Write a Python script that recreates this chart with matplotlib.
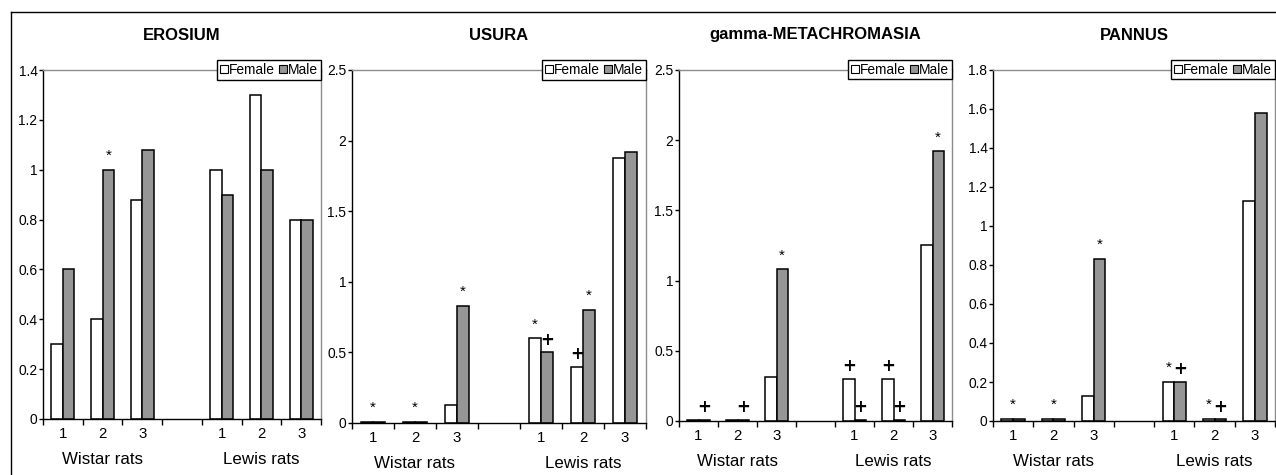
import numpy as np
import matplotlib.pyplot as plt
from matplotlib.patches import Patch
from matplotlib.lines import Line2D

plt.rcParams['font.family'] = ['Liberation Sans', 'DejaVu Sans']
fs = 0.9

# ---- data ----
cat_labels = ['1', '2', '3', '1', '2', '3']
group_labels = ['Wistar rats', 'Lewis rats']
titles = ['EROSIUM', 'USURA', 'gamma-METACHROMASIA', 'PANNUS']
ymax = [1.4, 2.5, 2.5, 1.8]
ystep = [0.2, 0.5, 0.5, 0.2]

erosium_f = [0.3, 0.4, 0.88, 1.0, 1.3, 0.8]
erosium_m = [0.6, 1.0, 1.08, 0.9, 1.0, 0.8]
usura_f = [0.01, 0.01, 0.13, 0.6, 0.4, 1.88]
usura_m = [0.01, 0.01, 0.83, 0.5, 0.8, 1.92]
gamma_f = [0.01, 0.01, 0.31, 0.3, 0.3, 1.25]
gamma_m = [0.01, 0.01, 1.08, 0.01, 0.01, 1.92]
pannus_f = [0.01, 0.01, 0.13, 0.2, 0.01, 1.13]
pannus_m = [0.01, 0.01, 0.83, 0.2, 0.01, 1.58]

# significance marks: (category index, bar 'F' / 'M' / 'FM', symbol)
erosium_marks = [(1, 'M', '*')]
usura_marks = [(0, 'FM', '*'), (1, 'FM', '*'), (2, 'M', '*'), (3, 'F', '*'),
               (3, 'M', '+'), (4, 'F', '+'), (4, 'M', '*')]
gamma_marks = [(0, 'M', '+'), (1, 'M', '+'), (2, 'M', '*'), (3, 'F', '+'),
               (3, 'M', '+'), (4, 'F', '+'), (4, 'M', '+'), (5, 'M', '*')]
pannus_marks = [(0, 'FM', '*'), (1, 'FM', '*'), (2, 'M', '*'), (3, 'F', '*'),
                (3, 'M', '+'), (4, 'F', '*'), (4, 'M', '+')]

females = [erosium_f, usura_f, gamma_f, pannus_f]
males = [erosium_m, usura_m, gamma_m, pannus_m]
marks = [erosium_marks, usura_marks, gamma_marks, pannus_marks]

# ---- layout (pixels of a 1276x475 image) ----
W, H = 1276, 475
boxes = [(43, 321, 70, 419), (352, 646, 70, 423), (679, 952, 70, 421), (993, 1275, 70, 421)]
male_col = '#969696'
frame_col = '#8c8c8c'
xpos = np.array([0, 1, 2, 4, 5, 6])
bw = 0.29

fig = plt.figure(figsize=(W / 100, H / 100), dpi=100)

# outer frame (top and left edges visible)
fig.add_artist(Line2D([10.5 / W, 1.0], [1 - 12 / H, 1 - 12 / H], color='black', lw=1.0))
fig.add_artist(Line2D([10.5 / W, 10.5 / W], [0, 1 - 12 / H], color='black', lw=1.0))

for i in range(4):
    l, r, t, b = boxes[i]
    ax = fig.add_axes([l / W, 1 - b / H, (r - l) / W, (b - t) / H])
    f = np.array(females[i])
    m = np.array(males[i])
    ax.bar(xpos - bw / 2, f, bw, color='white', edgecolor='black', linewidth=1.1, zorder=2)
    ax.bar(xpos + bw / 2, m, bw, color=male_col, edgecolor='black', linewidth=1.1, zorder=2)

    for idx, which, sym in marks[i]:
        if which == 'F':
            x, y = xpos[idx] - bw / 2, f[idx]
        elif which == 'M':
            x, y = xpos[idx] + bw / 2, m[idx]
        else:
            x, y = xpos[idx], max(f[idx], m[idx])
        if sym == '*':
            ax.annotate('*', (x, y), xytext=(0, 10), textcoords='offset points',
                        ha='center', va='center', fontsize=11)
        else:
            ax.annotate('+', (x, y), xytext=(0, 9), textcoords='offset points',
                        ha='center', va='center', fontsize=12, fontweight='bold',
                        family='DejaVu Sans')

    ax.set_xlim(-0.5, 6.5)
    ax.set_ylim(0, ymax[i])
    yt = np.arange(0, ymax[i] + 1e-9, ystep[i])
    ax.set_yticks(yt)
    ax.set_yticklabels(['%g' % v for v in yt], fontsize=11 * fs)
    ax.set_xticks(np.arange(-0.5, 7, 1))
    ax.set_xticklabels([])
    ax.set_xticks(xpos, minor=True)
    ax.set_xticklabels(cat_labels, minor=True, fontsize=12 * fs)
    ax.tick_params(axis='x', which='major', direction='out', length=4, width=1)
    ax.tick_params(axis='x', which='minor', length=0, pad=6)
    ax.tick_params(axis='y', direction='out', length=3, width=1, pad=1)
    for s in ['left', 'bottom']:
        ax.spines[s].set_color('black')
        ax.spines[s].set_linewidth(1.0)
    for s in ['top', 'right']:
        ax.spines[s].set_color(frame_col)
        ax.spines[s].set_linewidth(1.0)

    ax.text(1, -41 / (b - t), group_labels[0], transform=ax.get_xaxis_transform(),
            ha='center', va='center', fontsize=13.5 * fs)
    ax.text(5, -41 / (b - t), group_labels[1], transform=ax.get_xaxis_transform(),
            ha='center', va='center', fontsize=13.5 * fs)

    fig.text((l + r) / 2 / W, 1 - 35 / H, titles[i], ha='center', va='center',
             fontsize=13.3 * fs, fontweight='bold')

    handles = [Patch(facecolor='white', edgecolor='black', lw=0.8),
               Patch(facecolor=male_col, edgecolor='black', lw=0.8)]
    leg = ax.legend(handles, ['Female', 'Male'], ncol=2, loc='upper right',
                    bbox_to_anchor=(1.0, 1 + 10 / (b - t)), borderaxespad=0,
                    fontsize=11 * fs, handlelength=0.6, handleheight=0.6,
                    handletextpad=0.1, columnspacing=0.25, borderpad=0.2,
                    fancybox=False, framealpha=1)
    leg.get_frame().set_edgecolor('black')
    leg.get_frame().set_linewidth(1.0)

fig.savefig('out.png', dpi=100)
